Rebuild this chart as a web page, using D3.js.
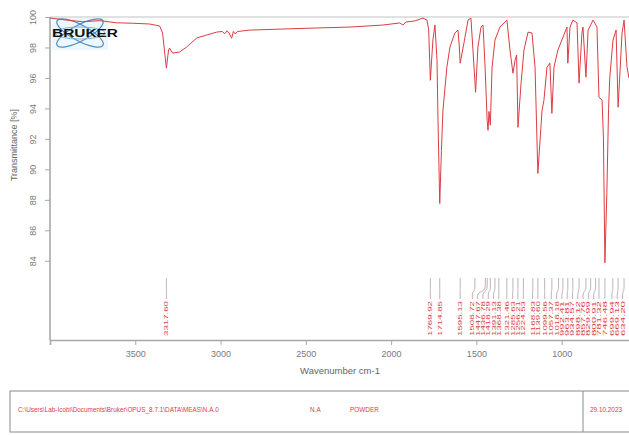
<!DOCTYPE html>
<html><head><meta charset="utf-8">
<script src="https://cdn.jsdelivr.net/npm/d3@7/dist/d3.min.js"></script>
<style>html,body{margin:0;padding:0;background:#fff;overflow:hidden}</style>
</head><body>
<svg id="c" width="629" height="435"></svg>
<script>
// ---- data ----
const wavenumbers = [4000,3903,3809,3710,3610,3516,3416,3357,3340,3317.6,3305,3299,3281,3240,3199,3140,3081,3022,
  2990,2975,2962,2950,2935,2925,2915,2900,2829,2635,2436,2242,2049,1949,1931,1914,1861,1814,1790,1780,1769.92,1755,1743,1731,1725,
  1714.85,1705,1696,1673,1655,1626,1608,1600,1595.13,1573,1549,1532,1520,1504.72,1491,1473,1461,1449,1436.78,1432,1426,1418.29,1408,
  1391,1362,1321,1303,1285.63,1273,1264,1256.21,1238,1221,1197,1174,1168.83,1156,1139.6,1115,1104,1086,1069,1057.37,1045,1022,992,969,
  963.81,951,934,910,898.12,881,875,857.76,845,816,793,781.32,763,755,746.48,735,725,718,699,681,669.13,646,634,617,605,590,560,530,500,470,430,400];
const transmittance = [99.93,99.80,99.69,99.76,99.62,99.59,99.54,99.41,98.95,96.64,97.83,97.96,97.63,97.70,98.03,98.62,98.82,99.01,
  99.05,98.90,99.10,98.95,98.60,99.05,98.90,99.05,99.14,99.21,99.28,99.34,99.47,99.61,99.47,99.67,99.74,99.93,99.80,99.20,95.85,98.49,99.47,97.20,93.20,
  87.76,91.24,93.88,96.71,98.03,98.95,99.14,98.03,96.97,98.29,99.80,99.93,97.83,95.06,98.03,99.34,99.47,96.71,93.20,92.56,93.80,92.90,96.71,
  98.49,99.34,99.80,97.83,96.31,97.17,97.50,92.76,95.66,97.83,99.01,98.95,98.29,96.71,89.73,93.88,94.54,96.71,96.97,93.68,96.71,97.83,98.68,99.34,
  96.97,99.34,99.80,99.61,95.66,98.95,99.34,96.05,99.14,99.80,99.34,94.73,94.54,92.00,83.87,88.50,94.00,96.00,98.49,99.14,94.08,98.95,99.80,96.71,96.00,97.50,96.00,98.00,95.00,97.00,96.00,97.00];
const peakLabels = [3317.60,1769.92,1714.85,1595.13,1508.72,1447.67,1436.78,1418.29,1391.13,1368.38,1321.46,1285.63,1256.21,1224.53,
  1168.83,1139.60,1099.56,1057.37,1018.18,992.41,963.81,934.57,898.12,857.76,829.99,800.91,781.32,746.48,699.94,669.13,634.20,611.88,575.25,530.41,494.06,455.29];
const xTicks = [3500,3000,2500,2000,1500,1000];
const yTicks = [84,86,88,90,92,94,96,98,100];
const xTitle = "Wavenumber cm-1";
const yTitle = "Transmittance [%]";
const footerPath = "C:\\Users\\Lab-Icobi\\Documents\\Bruker\\OPUS_8.7.1\\DATA\\MEAS\\N.A.0";
const footerSample = "N.A";
const footerForm = "POWDER";
const footerDate = "29.10.2023";

// ---- drawing ----
const svg = d3.select("#c");
const x = d3.scaleLinear().domain([4000,400]).range([50,664]);
const y = d3.scaleLinear().domain([100,78.8]).range([17,340]);
const axisCol = "#a8a8a8", txtCol = "#7a7a7a", red = "#dd3c44";
const FF = "Liberation Sans, Arial, sans-serif";

// Bruker logo
const logo = svg.append("g");
logo.append("rect").attr("x",52).attr("y",18).attr("width",56).attr("height",32).attr("fill","#eef7fb");
[-28,28].forEach(a=>{
  logo.append("ellipse").attr("cx",80).attr("cy",33).attr("rx",26).attr("ry",8)
    .attr("transform",`rotate(${a},80,33)`).attr("fill","none").attr("stroke","#4d8fc4").attr("stroke-width",1.2);
});
logo.append("ellipse").attr("cx",80).attr("cy",33).attr("rx",25).attr("ry",6).attr("fill","none").attr("stroke","#7ab3da").attr("stroke-width",1);
logo.append("text").attr("x",52).attr("y",37).attr("textLength",66).attr("lengthAdjust","spacingAndGlyphs")
  .attr("font-family",FF).attr("font-weight","bold").attr("font-size",11).attr("fill","#111").text("BRUKER");

// top frame line
svg.append("line").attr("x1",50).attr("x2",640).attr("y1",y(100)).attr("y2",y(100)).attr("stroke","#c4c4c4").attr("stroke-width",1.2);

// axes
const gx = svg.append("g").attr("transform",`translate(0,${y.range()[1]})`)
  .call(d3.axisBottom(x).tickValues(xTicks).tickSize(5).tickFormat(d3.format("d")));
const gy = svg.append("g").attr("transform",`translate(${x.range()[0]},0)`)
  .call(d3.axisLeft(y).tickValues(yTicks).tickSize(5).tickFormat(d3.format("d")));
[gx,gy].forEach(g=>{
  g.select(".domain").attr("stroke",axisCol).attr("stroke-width",1.6);
  g.selectAll(".tick line").attr("stroke",axisCol);
  g.selectAll(".tick text").attr("fill",txtCol).attr("font-family",FF).attr("font-size",9);
});
gx.selectAll(".tick text").attr("dy","1.0em");
gy.selectAll(".tick text").attr("transform","rotate(-90)").attr("text-anchor","middle").attr("x",0).attr("dy",0)
  .attr("y",-14);
gy.select(".domain").attr("d",`M0,${y(100)}V${y.range()[1]}`);

svg.append("text").attr("x",340).attr("y",374).attr("text-anchor","middle").attr("fill","#666")
  .attr("font-family",FF).attr("font-size",9.5).text(xTitle);
svg.append("text").attr("transform",`translate(17,145) rotate(-90)`).attr("text-anchor","middle").attr("fill","#666")
  .attr("font-family",FF).attr("font-size",9).text(yTitle);

// spectrum
const pts = wavenumbers.map((w,i)=>[w,transmittance[i]]);
svg.append("path").datum(pts).attr("fill","none").attr("stroke",red).attr("stroke-width",1)
  .attr("stroke-linejoin","round")
  .attr("d",d3.line().x(d=>x(d[0])).y(d=>y(d[1])));

// peak labels (spread from the right so they do not overlap)
const px = peakLabels.map(w=>x(w));
const gap = 5.3;
const lx = px.slice();
for(let i=lx.length-2;i>=0;i--){ lx[i] = Math.min(px[i], lx[i+1]-gap); }
const pg = svg.append("g");
peakLabels.forEach((w,i)=>{
  const a = px[i], b = lx[i];
  if (b > 626) return;
  pg.append("path").attr("fill","none").attr("stroke","#b0a0a4").attr("stroke-width",0.8)
    .attr("d",`M${a},278V286C${a},293 ${b},290 ${b},296V299`);
  pg.append("text").attr("transform",`translate(${b+2},301) rotate(-90)`).attr("text-anchor","end")
    .attr("textLength",35).attr("lengthAdjust","spacingAndGlyphs")
    .attr("font-family",FF).attr("font-size",5.7).attr("fill",red).text(w.toFixed(2));
});

// footer box
const fb = svg.append("g");
fb.append("rect").attr("x",10).attr("y",391).attr("width",640).attr("height",41).attr("fill","none").attr("stroke","#8a8a8a").attr("stroke-width",1);
fb.append("line").attr("x1",583).attr("x2",583).attr("y1",391).attr("y2",432).attr("stroke","#8a8a8a");
const ft = (tx,t)=>fb.append("text").attr("x",tx).attr("y",412).attr("font-family",FF)
  .attr("font-size",6.4).attr("fill",red).text(t);
ft(18,footerPath); ft(310,footerSample); ft(350,footerForm); ft(590,footerDate);
</script>
</body></html>
